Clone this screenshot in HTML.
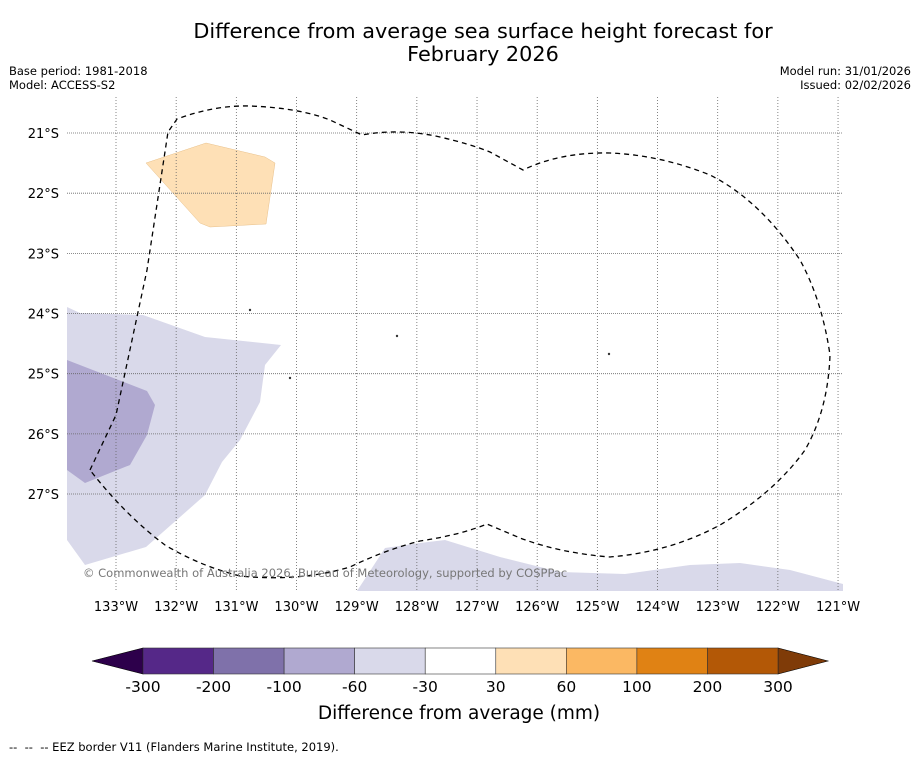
<!DOCTYPE html>
<html><head><meta charset="utf-8"><style>
body{margin:0;background:#fff;font-family:"Liberation Sans","DejaVu Sans",sans-serif;}
svg text{font-family:"DejaVu Sans","Liberation Sans",sans-serif;}
</style></head><body>
<svg id="c" width="919" height="758" viewBox="0 0 919 758" xmlns="http://www.w3.org/2000/svg">
<rect width="919" height="758" fill="#fff"/>
<text x="483" y="38" font-size="20.8" text-anchor="middle">Difference from average sea surface height forecast for</text>
<text x="483" y="61" font-size="20.8" text-anchor="middle">February 2026</text>
<text x="9" y="75" font-size="11.5">Base period: 1981-2018</text>
<text x="9" y="89" font-size="11.5">Model: ACCESS-S2</text>
<text x="911" y="75" font-size="11.5" text-anchor="end">Model run: 31/01/2026</text>
<text x="911" y="89" font-size="11.5" text-anchor="end">Issued: 02/02/2026</text>
<g id="map"></g>
<g id="cb"></g>
<text x="459" y="719" font-size="18.5" text-anchor="middle">Difference from average (mm)</text>
<text x="9" y="751" font-size="11.5" xml:space="preserve">--  --  -- EEZ border V11 (Flanders Marine Institute, 2019).</text>
</svg>
<script>
const lonTicks=[133,132,131,130,129,128,127,126,125,124,123,122,121];
const latTicks=[21,22,23,24,25,26,27];
const cbBounds=[-300,-200,-100,-60,-30,30,60,100,200,300];
const cbColors=["#552888","#7f71aa","#b0a9d0","#d9d9ea","#ffffff","#fee0b6","#fbb863","#e08214","#b35806"];
const cbUnder="#2d004b", cbOver="#7f3b08";
const NS="http://www.w3.org/2000/svg";
function el(t,a,p){const e=document.createElementNS(NS,t);for(const k in a)e.setAttribute(k,a[k]);p.appendChild(e);return e;}
const X0=67,X1=843,Y0=97,Y1=591;
const xLon=l=>116+(133-l)*60.17;
const yLat=l=>133+(l-21)*60.17;
const map=document.getElementById('map');
const clip=el('clipPath',{id:'mc'},map);el('rect',{x:X0,y:Y0,width:X1-X0,height:Y1-Y0},clip);
const g=el('g',{'clip-path':'url(#mc)'},map);
function poly(pts,fill,name,stroke){const p=el('polygon',{points:pts,fill:fill,stroke:stroke||'none','stroke-width':0.5},g);return p;}
poly("67,307 80,313 143,315 205,337 281,345 265,365 260,402 240,440 222,462 205,495 146,547 85,565 67,540","#d9d9ea",'anomaly-region-light-purple');
poly("67,360 147,391 155,405 147,435 130,465 85,483 67,470","#b0a9d0",'anomaly-region-purple');
poly("357,591 385,548 420,543 445,540 500,557 560,572 625,574 690,565 740,563 790,570 843,584 843,591","#d9d9ea",'anomaly-region-bottom');
poly("146,163 206,143 265,157 275,163 266,224 210,227 200,223","#fee0b6",'anomaly-region-orange','#e8c08a');
lonTicks.forEach(l=>{const x=xLon(l);const ln=el('line',{x1:x,x2:x,y1:Y0,y2:Y1,stroke:'#666','stroke-width':0.8,'stroke-dasharray':'1,2'},g);

const t=el('text',{x:x,y:611,'font-size':13,'text-anchor':'middle'},map);t.textContent=l+'°W';
});
latTicks.forEach(l=>{const y=yLat(l);const ln=el('line',{x1:X0,x2:X1,y1:y,y2:y,stroke:'#666','stroke-width':0.8,'stroke-dasharray':'1,1'},g);

const t=el('text',{x:59,y:y+5,'font-size':13,'text-anchor':'end'},map);t.textContent=l+'°S';
});
const eez=el('path',{d:"M90,470 L116,415 L147,270 L168,132 L177,119 Q215,105 250,106 Q300,108 330,120 L362,135 Q400,128 440,137 Q470,144 490,152 L523,170 Q560,152 610,153 Q660,155 710,175 Q760,200 800,260 Q822,300 830,355 Q828,410 805,450 Q775,492 720,525 Q670,552 610,557 Q560,553 520,538 L487,524 Q460,535 420,541 Q385,550 350,567 Q300,582 240,576 Q200,566 165,545 Q125,515 90,470",fill:'none',stroke:'#000','stroke-width':1.3,'stroke-dasharray':'5,4'},g);

[[397,336],[250,310],[290,378],[609,354]].forEach(p=>{const d=el('circle',{cx:p[0],cy:p[1],r:1.2,fill:'#333'},g);});
const cp=el('text',{x:83,y:577,'font-size':11.5,fill:'#777'},map);cp.textContent='© Commonwealth of Australia 2026, Bureau of Meteorology, supported by COSPPac';

const cb=document.getElementById('cb');
const CX0=143,CX1=778,CY0=648,CY1=674,n=cbColors.length,w=(CX1-CX0)/n;
const lt=el('polygon',{points:`${CX0},${CY0} ${CX0},${CY1} 92,${(CY0+CY1)/2}`,fill:cbUnder,stroke:'#000','stroke-width':0.6},cb);

const rt=el('polygon',{points:`${CX1},${CY0} ${CX1},${CY1} 828,${(CY0+CY1)/2}`,fill:cbOver,stroke:'#000','stroke-width':0.6},cb);

cbColors.forEach((c,i)=>{const r=el('rect',{x:CX0+i*w,y:CY0,width:w,height:CY1-CY0,fill:c,stroke:'#333','stroke-width':0.6},cb);
});
cbBounds.forEach((b,i)=>{const t=el('text',{x:CX0+i*w,y:692,'font-size':15.5,'text-anchor':'middle'},cb);t.textContent=b;
});
</script>
</body></html>
